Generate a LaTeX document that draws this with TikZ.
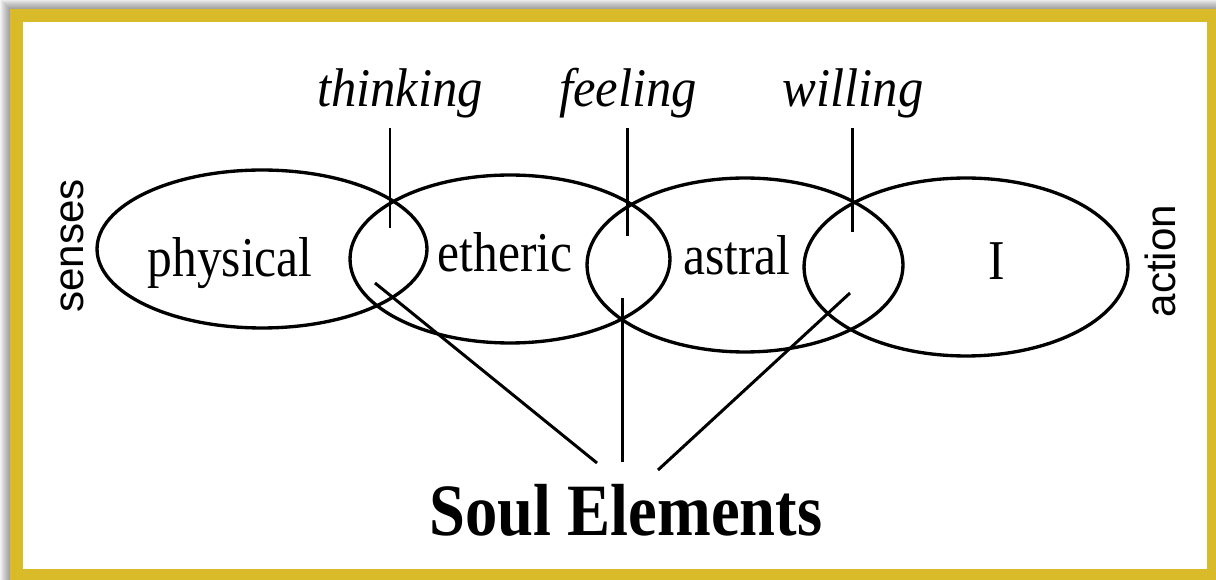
\documentclass[tikz,border=0pt]{standalone}
\usepackage{fontspec}
\setmainfont{Liberation Serif}
\setsansfont{Liberation Sans}
\usetikzlibrary{shapes.geometric}
\definecolor{framegold}{RGB}{217,186,40}

\begin{document}
\begin{tikzpicture}[x=0.02cm,y=-0.02cm,
  orb/.style={draw,ellipse,line width=1.9pt,inner sep=0pt},
  elem/.style={anchor=base,font=\fontsize{32}{32}\selectfont,xscale=.88},
  soul/.style={anchor=base,font=\fontsize{31}{31}\selectfont\itshape,xscale=.93},
  side/.style={font=\fontsize{24}{24}\selectfont\sffamily,rotate=90},
  link/.style={line width=1.7pt}]
\useasboundingbox (0,0) rectangle (1216,580);

\foreach \d in {1,...,10}
  \fill[black,opacity=.045] (10-\d,9-\d) rectangle (1216,580);
\fill[white] (10,9) rectangle (1216,580);
\draw[framegold,line width=0.26cm] (16.5,15.5) rectangle (1213.5,575.5);

\node[orb,minimum width=6.6cm,minimum height=3.16cm] (phys) at (262,249) {};
\node[orb,minimum width=6.4cm,minimum height=3.36cm] (eth) at (510,259) {};
\node[orb,minimum width=6.32cm,minimum height=3.48cm] (ast) at (745,265) {};
\node[orb,minimum width=6.48cm,minimum height=3.56cm] (ego) at (966,267) {};

\node[elem] (physT) at (230,277) {physical};
\node[elem] (ethT) at (505,272) {etheric};
\node[elem] (astT) at (737,275) {astral};
\node[elem] (egoT) at (997,280) {I};

\node[soul] (think) at (400,107) {thinking};
\node[soul] (feel) at (628,107) {feeling};
\node[soul] (will) at (853,107) {willing};

\node[side] (senses) at (72,246) {senses};
\node[side] (action) at (1160,261) {action};

\node[anchor=base,font=\fontsize{42}{42}\selectfont\bfseries,xscale=.875] (soulel) at (626,535) {Soul Elements};

\coordinate (t0) at (390,128);
\coordinate (t1) at (390,228);
\coordinate (f0) at (627,128);
\coordinate (f1) at (627,236);
\coordinate (w0) at (852,128);
\coordinate (w1) at (852,232);
\draw[link] (t0) -- (t1);
\draw[link] (f0) -- (f1);
\draw[link] (w0) -- (w1);

\coordinate (s1) at (375,283);
\coordinate (s2) at (622,298);
\coordinate (s3) at (850,293);
\coordinate (e1) at (597,463);
\coordinate (e2) at (622,462);
\coordinate (e3) at (658,470);
\draw[link] (s1) -- (e1);
\draw[link] (s2) -- (e2);
\draw[link] (s3) -- (e3);
\end{tikzpicture}
\end{document}
